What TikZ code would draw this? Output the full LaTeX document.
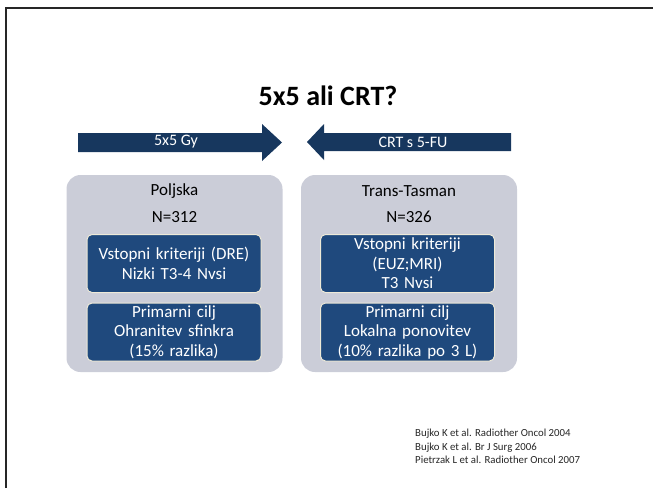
\documentclass[tikz,border=0pt]{standalone}
\usepackage{fontspec}
\setmainfont{Carlito}
\usepackage{tikz}
\usetikzlibrary{positioning}
\definecolor{arrownavy}{HTML}{17375E}
\definecolor{boxnavy}{HTML}{1F497D}
\definecolor{panelgrey}{HTML}{CBCDD8}
\definecolor{boxedge}{HTML}{EEEAD8}

\tikzset{
    panel/.style={rounded corners=14pt, fill=panelgrey, minimum width=216pt, minimum height=197pt},
    innerbox/.style={rounded corners=5pt, fill=boxnavy, draw=boxedge, line width=1pt,
        minimum width=174pt, minimum height=58pt, text width=172pt, align=center,
        text=white, font=\fontsize{17}{19.5}\selectfont, inner sep=0pt},
    paneltext/.style={font=\fontsize{17}{19}\selectfont},
    arrowtext/.style={text=white, font=\fontsize{16}{18}\selectfont, inner sep=0pt}
}

\begin{document}
\begin{tikzpicture}[x=1pt, y=-1pt]
    \useasboundingbox (0,0) rectangle (653,488);

    % Frame
    \draw[line width=2.5pt, black!85] (6,488) -- (6,8) -- (653,8);

    % Title
    \node[font=\fontsize{28}{32}\selectfont\bfseries] (title) at (328,96) {5x5 ali CRT?};

    % Arrows
    \fill[arrownavy] (78,133) -- (262,133) -- (262,124) -- (282,142.5) -- (262,161)
        -- (262,152) -- (78,152) -- cycle;
    \node[arrowtext] (gy) at (176,142) {5x5 Gy};
    \fill[arrownavy] (511,133) -- (324,133) -- (324,124) -- (307,142) -- (324,160)
        -- (324,151) -- (511,151) -- cycle;
    \node[arrowtext] (crt) at (413,142) {CRT s 5-FU};

    % Left panel
    \node[panel] (pl) at (174.5,273.5) {};
    \node[paneltext] (plname) at (174.5,191) {Poljska};
    \node[paneltext] (pln) at (174.5,217) {N=312};
    \node[innerbox] (plin) at (174,263.5) {Vstopni kriteriji (DRE)\\Nizki T3-4 Nvsi};
    \node[innerbox] (plgoal) at (174,332) {Primarni cilj\\Ohranitev sfinkra\\(15\% razlika)};

    % Right panel
    \node[panel] (tt) at (409,273.5) {};
    \node[paneltext] (ttname) at (409,191) {Trans-Tasman};
    \node[paneltext] (ttn) at (409,217) {N=326};
    \node[innerbox] (ttin) at (407.5,263.5) {Vstopni kriteriji\\(EUZ;MRI)\\T3 Nvsi};
    \node[innerbox] (ttgoal) at (407.5,332) {Primarni cilj\\Lokalna ponovitev\\(10\% razlika po 3 L)};

    % References
    \node[anchor=north west, align=left, inner sep=0pt, font=\fontsize{10.8}{13.5}\selectfont, text=black!85]
        (refs) at (415,429) {Bujko K et al. Radiother Oncol 2004\\Bujko K et al. Br J Surg 2006\\Pietrzak L et al. Radiother Oncol 2007};

\end{tikzpicture}
\end{document}
